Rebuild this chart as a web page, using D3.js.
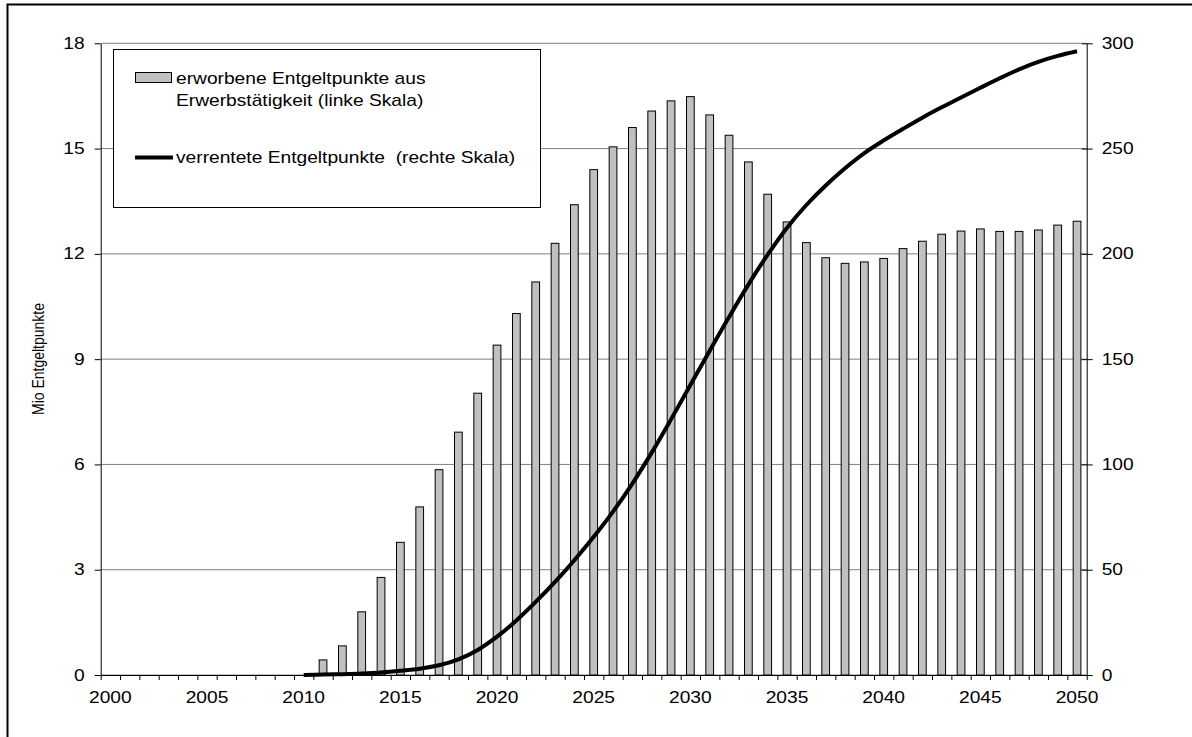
<!DOCTYPE html>
<html>
<head>
<meta charset="utf-8">
<script src="https://cdn.jsdelivr.net/npm/d3@7"></script>
<style>
  html, body { margin: 0; padding: 0; background: #fff; }
  svg { display: block; }
  text { font-family: "Liberation Sans", Arial, sans-serif; fill: #000; }
</style>
</head>
<body>
<svg id="chart" width="1192" height="737"></svg>
<script>
// ---- data ----
const years = [2000,2001,2002,2003,2004,2005,2006,2007,2008,2009,2010,
  2011,2012,2013,2014,2015,2016,2017,2018,2019,2020,
  2021,2022,2023,2024,2025,2026,2027,2028,2029,2030,
  2031,2032,2033,2034,2035,2036,2037,2038,2039,2040,
  2041,2042,2043,2044,2045,2046,2047,2048,2049,2050];
const yearLabels = [2000,2005,2010,2015,2020,2025,2030,2035,2040,2045,2050];
const leftTicks = [0,3,6,9,12,15,18];
const rightTicks = [0,50,100,150,200,250,300];

const barYears = [2011,2012,2013,2014,2015,2016,2017,2018,2019,2020,
  2021,2022,2023,2024,2025,2026,2027,2028,2029,2030,
  2031,2032,2033,2034,2035,2036,2037,2038,2039,2040,
  2041,2042,2043,2044,2045,2046,2047,2048,2049,2050];
const barValues = [0.43,0.83,1.80,2.78,3.78,4.79,5.85,6.92,8.03,9.4,
  10.3,11.2,12.3,13.4,14.4,15.05,15.6,16.07,16.36,16.48,
  15.96,15.38,14.62,13.70,12.91,12.32,11.89,11.73,11.77,11.87,
  12.15,12.36,12.56,12.65,12.71,12.64,12.64,12.68,12.82,12.93];

const lineYears = [2010,2011,2012,2013,2014,2015,2016,2017,2018,2019,2020,
  2021,2022,2023,2024,2025,2026,2027,2028,2029,2030,
  2031,2032,2033,2034,2035,2036,2037,2038,2039,2040,
  2041,2042,2043,2044,2045,2046,2047,2048,2049,2050];
const lineValues = [0,0.2,0.4,0.7,1.2,2.0,3.0,4.6,7.4,11.9,18.2,
  25.9,34.7,44.2,54.5,65.6,77.6,90.9,105.6,121.4,137.7,
  154.0,170.0,185.4,199.6,212.4,223.2,232.5,240.7,247.9,253.9,
  259.4,264.7,269.6,274.3,278.9,283.4,287.6,291.2,294.0,296.2];

const legendBar = ["erworbene Entgeltpunkte aus", "Erwerbstätigkeit (linke Skala)"];
const legendLine = "verrentete Entgeltpunkte\u00a0 (rechte Skala)";
const yTitle = "Mio Entgeltpunkte";

// ---- layout ----
const L = 100.7, R = 1086.7, T = 43.3, B = 675;
const SX = 1.2;      // horizontal stretch of the text
const FS = 16;

const svg = d3.select("#chart");

// outer frame
svg.append("rect").attr("x", 7.5).attr("y", 4.5).attr("width", 1400).attr("height", 1000)
  .attr("fill", "none").attr("stroke", "#000").attr("stroke-width", 2);

const x = d3.scaleBand().domain(years).range([L, R]).padding(0);
const xb = d3.scaleLinear().domain([0, years.length]).range([L, R]);
const yL = d3.scaleLinear().domain([0, 18]).range([B, T]);
const yR = d3.scaleLinear().domain([0, 300]).range([B, T]);
const bw = x.bandwidth();

function stretch(sel) {
  sel.each(function () {
    const t = d3.select(this);
    const tx = +t.attr("x") || 0;
    t.attr("transform", `translate(${tx},0) scale(${SX},1) translate(${-tx},0)`);
  });
}

// gridlines
svg.append("g").selectAll("line").data(leftTicks).join("line")
  .attr("x1", L).attr("x2", R)
  .attr("y1", d => yL(d)).attr("y2", d => yL(d))
  .attr("stroke", "#808080").attr("stroke-width", 1);

// bars
const barW = bw * 0.4;
svg.append("g").selectAll("rect").data(barYears.map((y, i) => ({ year: y, v: barValues[i] })))
  .join("rect")
  .attr("x", d => x(d.year) + (bw - barW) / 2)
  .attr("y", d => yL(d.v))
  .attr("width", barW)
  .attr("height", d => B - yL(d.v))
  .attr("fill", "#c0c0c0").attr("stroke", "#000").attr("stroke-width", 1);

// axes
const gL = svg.append("g").attr("transform", `translate(${L},0)`)
  .call(d3.axisLeft(yL).tickValues(leftTicks).tickSize(6).tickPadding(10).tickSizeOuter(0));
const gR = svg.append("g").attr("transform", `translate(${R},0)`)
  .call(d3.axisRight(yR).tickValues(rightTicks).tickSize(6).tickPadding(9).tickSizeOuter(0));
gR.selectAll(".tick line").attr("x1", -5);
const gX = svg.append("g").attr("transform", `translate(0,${B})`)
  .call(d3.axisBottom(xb).tickValues(d3.range(years.length + 1)).tickSize(5).tickFormat("").tickSizeOuter(0));
const gXL = svg.append("g").attr("transform", `translate(0,${B})`)
  .call(d3.axisBottom(x).tickValues(yearLabels).tickSize(0).tickPadding(17));
gXL.select(".domain").remove();

[gL, gR, gX, gXL].forEach(g => {
  g.attr("font-family", null).attr("font-size", null);
  g.selectAll(".domain, .tick line").attr("stroke", "#000").attr("stroke-width", 1);
  g.selectAll("text").attr("font-size", FS).attr("fill", "#000");
});
stretch(gL.selectAll("text"));
stretch(gR.selectAll("text"));
stretch(gXL.selectAll("text"));

// line
const line = d3.line()
  .x(d => x(d.year) + bw / 2)
  .y(d => yR(d.v))
  .curve(d3.curveCatmullRom.alpha(0.5));
svg.append("path")
  .datum(lineYears.map((y, i) => ({ year: y, v: lineValues[i] })))
  .attr("d", line)
  .attr("fill", "none").attr("stroke", "#000").attr("stroke-width", 4);

// y title
svg.append("text")
  .attr("transform", `translate(44,359) scale(${SX},1) rotate(-90)`)
  .attr("text-anchor", "middle")
  .attr("font-size", 14)
  .text(yTitle);

// legend
const lg = svg.append("g");
lg.append("rect").attr("x", 113.5).attr("y", 49.5).attr("width", 427).attr("height", 158)
  .attr("fill", "#fff").attr("stroke", "#000").attr("stroke-width", 1);
lg.append("rect").attr("x", 135.5).attr("y", 72.5).attr("width", 36).attr("height", 10)
  .attr("fill", "#c0c0c0").attr("stroke", "#000").attr("stroke-width", 1);
lg.append("line").attr("x1", 135).attr("x2", 173).attr("y1", 157.5).attr("y2", 157.5)
  .attr("stroke", "#000").attr("stroke-width", 4);
const lt = lg.selectAll("text.lt").data([
  { t: legendBar[0], y: 84.5 }, { t: legendBar[1], y: 106.5 }, { t: legendLine, y: 163 }
]).join("text").attr("class", "lt")
  .attr("x", 176).attr("y", d => d.y).attr("font-size", FS).text(d => d.t);
stretch(lt);
</script>
</body>
</html>
